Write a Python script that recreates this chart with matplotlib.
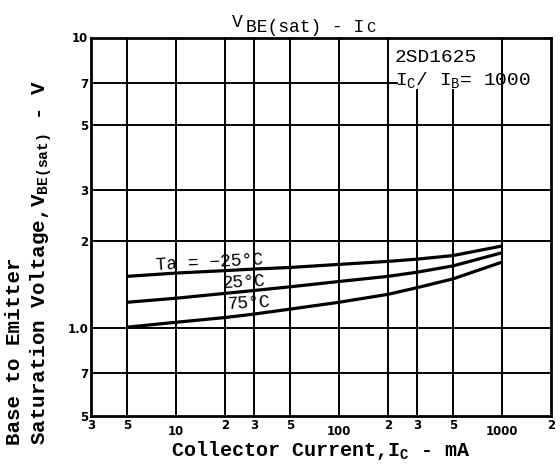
import matplotlib
matplotlib.use("Agg")
import matplotlib.pyplot as plt

ic_ma = [5, 10, 20, 30, 50, 100, 200, 300, 500, 1000]
v_m25 = [1.51, 1.55, 1.58, 1.60, 1.62, 1.66, 1.70, 1.73, 1.78, 1.92]
v_25 = [1.23, 1.27, 1.32, 1.35, 1.39, 1.45, 1.51, 1.56, 1.64, 1.82]
v_75 = [1.01, 1.05, 1.09, 1.12, 1.165, 1.23, 1.31, 1.38, 1.48, 1.69]

x_ticks = [3, 5, 10, 20, 30, 50, 100, 200, 300, 500, 1000, 2000]
x_ticklabels = ["3", "5", "10", "2", "3", "5", "100", "2", "3", "5", "1000", "2"]
y_ticks = [0.5, 0.7, 1.0, 2, 3, 5, 7, 10]
y_ticklabels = ["5", "7", "1.0", "2", "3", "5", "7", "10"]
curve_labels = ["Ta = \u221225\u00b0C", "25\u00b0C", "75\u00b0C"]

W, H = 560, 470
fig = plt.figure(figsize=(5.6, 4.7), dpi=100)
ax = fig.add_axes([91/W, 1-416/H, 460/W, (416-37.5)/H])
ax.set_xscale("log")
ax.set_yscale("log")
ax.set_xlim(3, 2000)
ax.set_ylim(0.5, 10)

# grid lines
for yv in [0.7, 1.0, 2, 3, 5]:
    ax.axhline(yv, color="black", lw=1.4, zorder=1)
ax.axhline(7, color="black", lw=1.4, zorder=1, xmax=0.665)
for xv in [5, 10, 20, 30, 50, 100, 200, 1000]:
    ax.axvline(xv, color="black", lw=1.4, zorder=1)
for xv in [300, 500]:
    ax.axvline(xv, color="black", lw=1.4, zorder=1, ymax=0.86)

for v in (v_m25, v_25, v_75):
    ax.plot(ic_ma, v, color="black", lw=2.3, zorder=3, solid_capstyle="butt")

for s in ax.spines.values():
    s.set_linewidth(2)

ax.set_xticks(x_ticks)
ax.set_xticklabels(x_ticklabels)
ax.set_yticks(y_ticks)
ax.set_yticklabels(y_ticklabels)
ax.minorticks_off()
ax.tick_params(length=0, labelsize=8.5, pad=2)
for lab in ax.get_xticklabels() + ax.get_yticklabels():
    lab.set_fontweight("bold")
for lab, t in zip(ax.get_xticklabels(), x_ticklabels):
    if t.startswith("1"):
        lab.set_y(-0.016)

mono = "Liberation Mono"
ax.set_xlabel(r"Collector Current,I$_{\mathregular{C}}$ - mA", family=mono,
              fontweight="bold", fontsize=14.4, labelpad=1)
fig.text(15/W, 1-445/H, "Base to Emitter", rotation=90, family=mono, fontweight="bold",
         fontsize=15, ha="center", va="bottom")
fig.text(41/W, 1-445/H, r"Saturation Voltage,V$_{\mathregular{BE(sat)}}$ - V", rotation=90,
         family=mono, fontweight="bold", fontsize=15, ha="center", va="bottom")

# title
fig.text(232/W, 1-27/H, "V", family=mono, fontsize=13, ha="left", va="baseline")
fig.text(246/W, 1-32/H, "BE(sat) - I", family=mono, fontsize=13, ha="left", va="baseline")
fig.text(366/W, 1-32/H, "C", family=mono, fontsize=11, ha="left", va="baseline")

# annotation
fig.text(395/W, 1-62/H, "2SD1625", family=mono, fontsize=14, ha="left", va="baseline")
fig.text(395/W, 1-86/H, r"I$_{\mathregular{C}}$/ I$_{\mathregular{B}}$= 1000",
         family=mono, fontsize=14, ha="left", va="baseline")

# curve labels
ax.text(7.4, 1.68, curve_labels[0], family=mono, fontsize=13, rotation=3,
        ha="left", va="center")
ax.text(19.1, 1.445, curve_labels[1], family=mono, fontsize=13, rotation=3,
        ha="left", va="center")
ax.text(20.4, 1.215, curve_labels[2], family=mono, fontsize=13, rotation=3,
        ha="left", va="center")

fig.savefig("out.png", dpi=100)
